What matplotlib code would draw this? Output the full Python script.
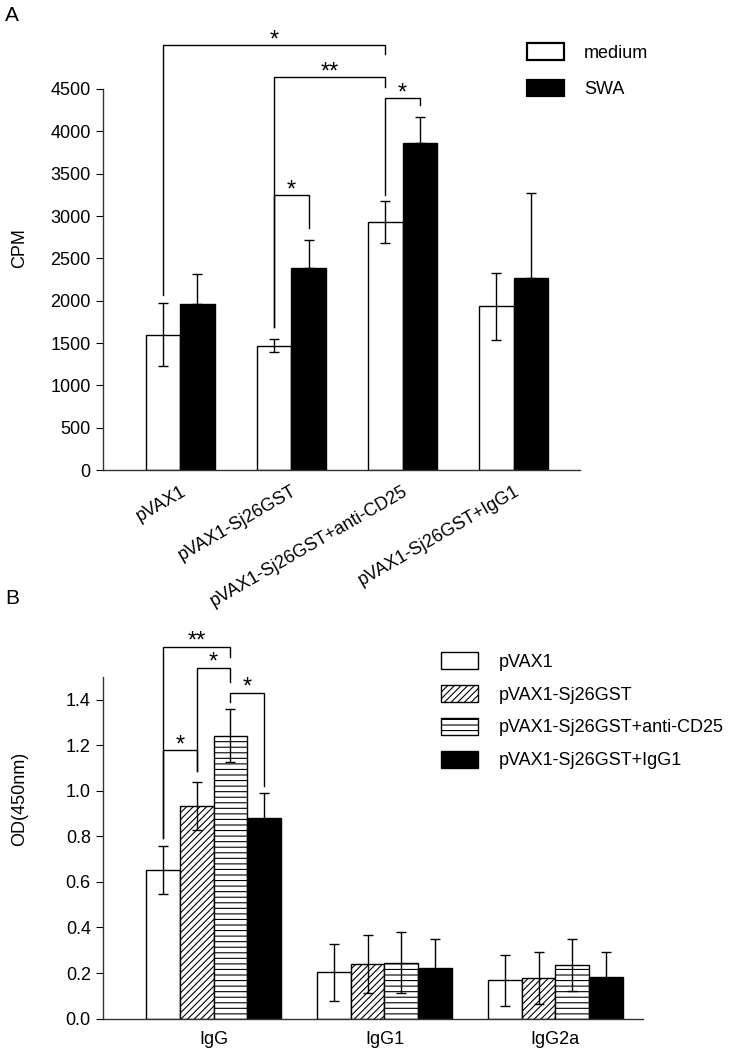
import numpy as np
import matplotlib.pyplot as plt

plt.rcParams['font.family'] = ['Liberation Sans', 'DejaVu Sans']
plt.rcParams['hatch.linewidth'] = 0.8

# panel A data
groups_a = ["pVAX1", "pVAX1-Sj26GST", "pVAX1-Sj26GST+anti-CD25", "pVAX1-Sj26GST+IgG1"]
medium = [1600, 1470, 2930, 1935]
medium_err = [370, 80, 250, 395]
swa = [1960, 2390, 3860, 2270]
swa_err = [360, 330, 310, 1000]

# panel B data
groups_b = ["IgG", "IgG1", "IgG2a"]
series_b = ["pVAX1", "pVAX1-Sj26GST", "pVAX1-Sj26GST+anti-CD25", "pVAX1-Sj26GST+IgG1"]
od_vals = [
    [0.652, 0.203, 0.168],
    [0.933, 0.241, 0.179],
    [1.243, 0.245, 0.236],
    [0.881, 0.222, 0.182],
]
od_err = [
    [0.107, 0.125, 0.111],
    [0.105, 0.128, 0.113],
    [0.115, 0.133, 0.115],
    [0.110, 0.128, 0.110],
]

W, H = 744, 1052
fig = plt.figure(figsize=(W / 100, H / 100), dpi=100)


def bracket(ax, x1, x2, ytop, y1, y2, label):
    ax.plot([x1, x1, x2, x2], [y1, ytop, ytop, y2], color='black', lw=1.0,
            clip_on=False, solid_joinstyle='miter')
    ax.annotate(label, xy=((x1 + x2) / 2, ytop), xytext=(0, -1),
                textcoords='offset points', ha='center', va='baseline',
                fontsize=17, annotation_clip=False)


def style(ax):
    for s in ['top', 'right']:
        ax.spines[s].set_visible(False)
    for s in ['left', 'bottom']:
        ax.spines[s].set_color('#333333')
        ax.spines[s].set_linewidth(1.0)
    ax.tick_params(axis='y', labelsize=13, length=5, direction='out')
    ax.tick_params(axis='x', length=0, labelsize=13)


ekw = dict(elinewidth=1.0, capsize=3.5, capthick=1.0, ecolor='black')

# ---- panel A ----
ax = fig.add_axes([0.138, 0.5532, 0.6415, 0.3622])
x = np.arange(len(groups_a))
w = 0.31
ax.bar(x - w / 2, medium, w, color='white', edgecolor='black', lw=1.0,
       yerr=medium_err, error_kw=ekw, label='medium')
ax.bar(x + w / 2, swa, w, color='black', edgecolor='black', lw=1.0,
       yerr=[np.zeros(len(swa)), swa_err], error_kw=ekw, label='SWA')
ax.set_xlim(-0.698, 3.596)
ax.set_ylim(0, 4500)
ax.set_yticks(np.arange(0, 4501, 500))
ax.set_xticks(x)
ax.set_xticklabels(groups_a, rotation=30, ha='right', rotation_mode='anchor')
style(ax)
ax.tick_params(axis='x', pad=9)
ax.set_ylabel('CPM', fontsize=13)
ax.yaxis.set_label_coords(-0.156, 0.583)

m = x - w / 2
s = x + w / 2
bracket(ax, m[0], m[2], 5016, 2070, 4917, '*')
bracket(ax, m[1], m[2], 4639, 1685, 4528, '**')
bracket(ax, m[2], s[2], 4389, 3250, 4310, '*')
bracket(ax, m[1], s[1], 3251, 1685, 2855, '*')

leg = ax.legend(loc='upper left', bbox_to_anchor=(527 / W, 1 - 43 / H),
                bbox_transform=fig.transFigure, frameon=False, borderpad=0,
                borderaxespad=0, fontsize=13, handlelength=2.05,
                handleheight=1.05, labelspacing=1.0, handletextpad=1.1)
for p in leg.get_patches():
    p.set_linewidth(1.6)
fig.text(5 / W, 1 - 6 / H, 'A', fontsize=15, va='top')

# ---- panel B ----
ax2 = fig.add_axes([0.138, 0.0318, 0.7258, 0.3246])
xb = np.arange(len(groups_b))
wb = 0.197
fills = ['white', 'white', 'white', 'black']
hatches = [None, '/////', '---', None]
for i, name in enumerate(series_b):
    pos = xb + (i - 1.5) * wb
    ax2.bar(pos, od_vals[i], wb, color=fills[i], edgecolor='black', lw=1.0,
            hatch=hatches[i], yerr=od_err[i], error_kw=ekw, label=name)
ax2.set_xlim(-0.649, 2.511)
ax2.set_ylim(0, 1.5)
yt = np.arange(0, 1.41, 0.2)
ax2.set_yticks(yt)
ax2.set_yticklabels([f'{v:.1f}' for v in yt])
ax2.set_xticks(xb)
ax2.set_xticklabels(groups_b)
style(ax2)
ax2.tick_params(axis='x', pad=9)
ax2.set_ylabel('OD(450nm)', fontsize=13)
ax2.yaxis.set_label_coords(-0.138, 0.643)

c = [xb[0] + (i - 1.5) * wb for i in range(4)]
bracket(ax2, c[0], c[2], 1.634, 0.795, 1.59, '**')
bracket(ax2, c[1], c[2], 1.542, 1.087, 1.48, '*')
bracket(ax2, c[2], c[3], 1.432, 1.39, 1.021, '*')
bracket(ax2, c[0], c[1], 1.178, 0.795, 1.087, '*')

ax2.legend(loc='upper left', bbox_to_anchor=(441 / W, 1 - 652 / H),
           bbox_transform=fig.transFigure, frameon=False, borderpad=0,
           borderaxespad=0, fontsize=13, handlelength=2.05, handleheight=1.05,
           labelspacing=0.8, handletextpad=1.15)
fig.text(5 / W, 1 - 589 / H, 'B', fontsize=15, va='top')

fig.savefig('out.png', dpi=100)
